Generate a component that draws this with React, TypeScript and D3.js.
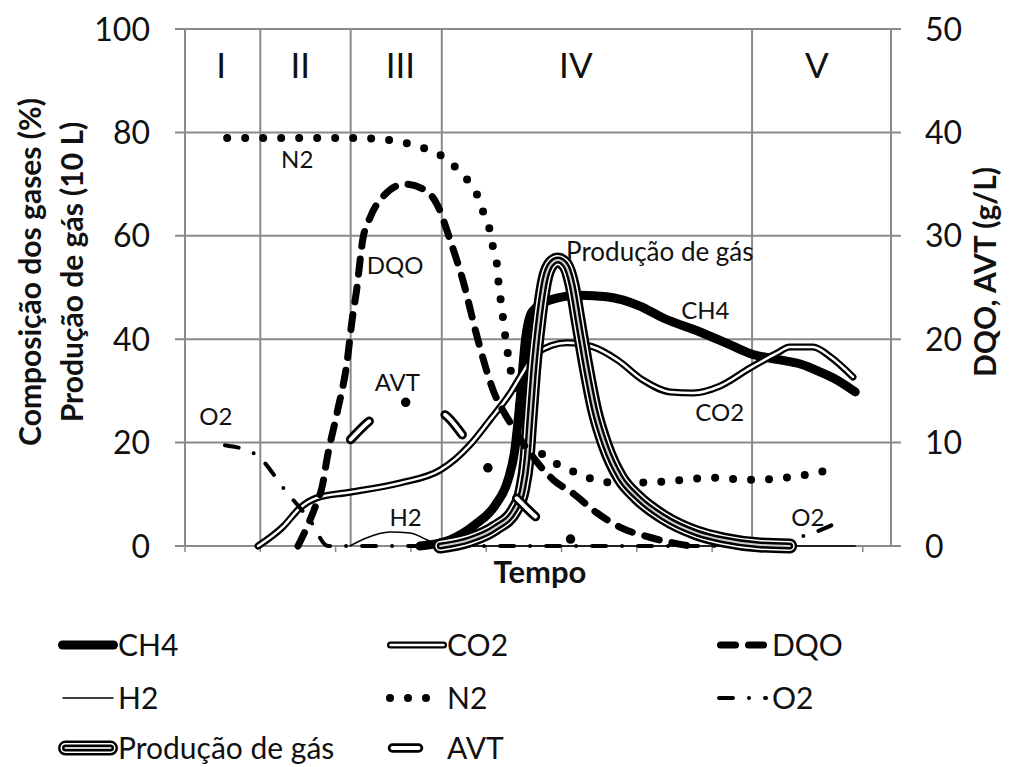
import React from "react";
import * as d3 from "d3";

const W = 1009;
const H = 767;

// Axis ticks and phase annotations
const leftTicks = [0, 20, 40, 60, 80, 100];
const rightTicks = [0, 10, 20, 30, 40, 50];
const timeTicks = [0, 1, 2, 3, 4, 5, 6, 7, 8, 9];
const phaseNames = ["I", "II", "III", "IV", "V"];
const phaseBounds = [1.0, 2.2, 3.41, 7.53];
const phaseLabelAt = [0.48, 1.53, 2.86, 5.19, 8.39];

// Gas composition (%) and gas production (10 L), left axis: [tempo, valor]
const ch4: [number, number][] = [
  [3.12, 0], [3.52, 1.2], [3.85, 4.1], [4.12, 7.9], [4.29, 12.8], [4.38, 18.6],
  [4.45, 28.2], [4.52, 39.8], [4.61, 45.3], [4.85, 47.6], [5.25, 48.5], [5.6, 48.2],
  [6.04, 46.4], [6.35, 44.1], [6.84, 41.4], [7.24, 38.9], [7.53, 37.1], [7.9, 36.0],
  [8.17, 35.2], [8.43, 33.7], [8.66, 32.1], [8.9, 29.8],
];
const co2: [number, number][] = [
  [0.97, 0], [1.3, 3.7], [1.53, 7.4], [1.75, 9.3], [2.19, 10.4], [2.86, 12.2],
  [3.39, 14.7], [3.59, 16.8], [3.78, 19.5], [4.05, 24.4], [4.32, 29.6], [4.45, 32.7],
  [4.67, 37.3], [5.07, 39.3], [5.42, 38.5], [5.74, 36.0], [6.08, 32.1], [6.44, 29.8],
  [6.75, 29.6], [7.1, 30.9], [7.5, 34.4], [7.86, 37.3], [8.03, 38.5], [8.34, 38.5],
  [8.57, 36.6], [8.87, 32.7],
];
const h2: [number, number][] = [
  [2.19, 0], [2.4, 1.5], [2.72, 2.7], [2.99, 2.5], [3.21, 1.2], [3.39, 0],
  [5.0, 0], [7.0, 0], [8.9, 0],
];
const n2: [number, number][] = [
  [0.56, 78.9], [1.53, 78.9], [2.2, 78.9], [2.59, 78.7], [2.95, 77.9], [3.16, 77.0],
  [3.39, 75.6], [3.59, 73.3], [3.75, 70.8], [3.88, 67.9], [3.96, 64.6], [4.04, 61.5],
  [4.09, 57.8], [4.14, 54.7], [4.16, 51.5], [4.21, 45.6], [4.26, 39.8], [4.32, 34.4],
  [4.45, 26.3], [4.65, 19.5], [4.9, 16.2], [5.11, 14.7], [5.34, 13.3], [5.55, 12.4],
  [5.8, 12.2], [6.31, 12.4], [7.01, 13.2], [7.5, 12.8], [7.97, 13.2], [8.21, 13.7],
  [8.43, 14.3], [8.66, 15.3],
];
const o2: [number, number][] = [
  [0.53, 19.5], [0.93, 17.8], [1.35, 10.4], [1.66, 5.0], [1.9, 0], [4.18, 0],
  [7.97, 0], [8.14, 1.5], [8.37, 2.7], [8.57, 3.9], [8.76, 5.2],
];
const producao: [number, number][] = [
  [3.39, 0], [3.78, 1.2], [4.12, 3.5], [4.38, 7.0], [4.48, 10.8], [4.54, 16.6],
  [4.58, 24.4], [4.63, 34.0], [4.7, 43.7], [4.78, 51.5], [4.87, 54.7], [4.95, 55.3],
  [5.05, 54.4], [5.14, 50.5], [5.22, 43.7], [5.31, 36.0], [5.44, 26.3], [5.58, 19.5],
  [5.78, 13.2], [6.0, 9.5], [6.35, 5.6], [6.8, 2.5], [7.14, 1.2], [7.64, 0.2], [8.03, 0],
];

// DQO and AVT (g/L), right axis
const dqo: [number, number][] = [
  [1.5, 0], [1.63, 2.0], [1.74, 4.0], [1.82, 5.7], [1.89, 8.6], [2.02, 12.9],
  [2.15, 17.7], [2.22, 21.9], [2.28, 24.8], [2.36, 29.6], [2.46, 31.8], [2.63, 33.8],
  [2.92, 35.0], [3.19, 34.4], [3.35, 33.0], [3.52, 29.6], [3.69, 25.7], [3.88, 20.2],
  [4.09, 15.1], [4.32, 11.9], [4.58, 9.0], [4.89, 6.4], [5.15, 5.1], [5.47, 3.2],
  [5.78, 1.8], [6.14, 0.9], [6.48, 0.3], [6.71, 0],
];
const avt: [number, number][] = [
  [2.2, 10.3], [2.42, 11.9], [2.92, 13.9], [3.45, 12.7], [3.71, 10.5], [4.04, 7.4],
  [4.38, 4.8], [4.71, 2.5], [5.21, 0.4], [5.4, 0],
];

// In-plot series labels, positioned in data units of the left axis
const seriesLabels = [
  { text: "N2", t: 1.49, v: 74.7, anchor: "middle" },
  { text: "DQO", t: 2.79, v: 54.2, anchor: "middle" },
  { text: "AVT", t: 2.82, v: 31.7, anchor: "middle" },
  { text: "O2", t: 0.41, v: 25.0, anchor: "middle" },
  { text: "H2", t: 2.93, v: 5.6, anchor: "middle" },
  { text: "CH4", t: 6.91, v: 45.6, anchor: "middle" },
  { text: "CO2", t: 7.1, v: 25.9, anchor: "middle" },
  { text: "O2", t: 8.27, v: 5.6, anchor: "middle" },
  { text: "Produção de gás", t: 5.06, v: 56.9, anchor: "start" },
];

const FONT = "Lato, 'Open Sans', sans-serif";
const GRID = "#8a8a8a";

type Stroke = { color: string; width: number; dash?: string };

const styles: Record<string, Stroke[]> = {
  CH4: [{ color: "#000", width: 9 }],
  CO2: [{ color: "#000", width: 7 }, { color: "#fff", width: 2.5 }],
  H2: [{ color: "#000", width: 1.5 }],
  N2: [{ color: "#000", width: 8, dash: "0 18" }],
  O2: [{ color: "#000", width: 4, dash: "14 16 0 16" }],
  Prod: [
    { color: "#000", width: 15 },
    { color: "#fff", width: 10 },
    { color: "#000", width: 7 },
    { color: "#cfcfcf", width: 2 },
  ],
  DQO: [{ color: "#000", width: 7, dash: "15 13" }],
  AVT: [
    { color: "#000", width: 9.5, dash: "26 42 0 42" },
    { color: "#fff", width: 4, dash: "26 84" },
  ],
};

function Strokes({ d, st }: { d: string; st: Stroke[] }) {
  return (
    <g fill="none" strokeLinecap="round" strokeLinejoin="round">
      {st.map((s, i) => (
        <path key={i} d={d} stroke={s.color} strokeWidth={s.width} strokeDasharray={s.dash} />
      ))}
    </g>
  );
}

export default function App() {
  const left = 185, right = 891, top = 29, bottom = 546;
  const x = d3.scaleLinear().domain([0, 9.375]).range([left, right]);
  const yL = d3.scaleLinear().domain([0, 100]).range([bottom, top]);
  const yR = d3.scaleLinear().domain([0, 50]).range([bottom, top]);

  const lineL = d3.line<[number, number]>().x((d) => x(d[0])).y((d) => yL(d[1])).curve(d3.curveMonotoneX);
  const lineR = d3.line<[number, number]>().x((d) => x(d[0])).y((d) => yR(d[1])).curve(d3.curveMonotoneX);

  const legendRows = [645, 698, 748];
  const legend = [
    { name: "CH4", st: styles.CH4, col: 0, row: 0 },
    { name: "CO2", st: styles.CO2, col: 1, row: 0 },
    { name: "DQO", st: styles.DQO, col: 2, row: 0 },
    { name: "H2", st: styles.H2, col: 0, row: 1 },
    { name: "N2", st: styles.N2, col: 1, row: 1 },
    { name: "O2", st: styles.O2, col: 2, row: 1 },
    { name: "Produção de gás", st: styles.Prod, col: 0, row: 2 },
    { name: "AVT", st: styles.AVT, col: 1, row: 2 },
  ];
  // symbol extents per legend entry
  const legendSym: Record<string, [number, number]> = {
    CH4: [62.5, 113.5],
    CO2: [390.5, 443.5],
    DQO: [720.5, 764.5],
    H2: [63, 113],
    N2: [390, 430],
    O2: [719, 766],
    "Produção de gás": [65.5, 110.5],
    AVT: [392.5, 422.5],
  };
  const legendTextX = [118, 447, 772];

  return (
    <svg width={W} height={H} style={{ position: "absolute", left: 0, top: 0, background: "#fff" }}>
      <rect width={W} height={H} fill="#fff" />
      {/* horizontal gridlines with outer tick marks on both axes */}
      {leftTicks.map((v) => (
        <line key={"g" + v} x1={left - 10} x2={right + 10} y1={yL(v)} y2={yL(v)} stroke={GRID} strokeWidth={2} />
      ))}
      {/* vertical axes */}
      <line x1={left} x2={left} y1={top} y2={bottom} stroke={GRID} strokeWidth={2} />
      <line x1={right} x2={right} y1={top} y2={bottom} stroke={GRID} strokeWidth={2} />
      {/* phase separators */}
      {phaseBounds.map((t) => (
        <line key={"p" + t} x1={x(t)} x2={x(t)} y1={top} y2={bottom} stroke={GRID} strokeWidth={2} />
      ))}
      {/* time axis tick marks */}
      {timeTicks.map((t) => (
        <line key={"t" + t} x1={x(t)} x2={x(t)} y1={bottom} y2={bottom + 6} stroke={GRID} strokeWidth={1.5} />
      ))}

      {/* phase labels */}
      {phaseNames.map((p, i) => (
        <text key={p} x={x(phaseLabelAt[i])} y={yL(93)} dy="0.36em" textAnchor="middle" fontFamily={FONT} fontSize={35} fill="#111">
          {p}
        </text>
      ))}

      {/* series */}
      <Strokes d={lineL(n2) as string} st={styles.N2} />
      <Strokes d={lineL(ch4) as string} st={styles.CH4} />
      <Strokes d={lineL(co2) as string} st={styles.CO2} />
      <Strokes d={lineL(h2) as string} st={styles.H2} />
      <Strokes d={lineL(o2) as string} st={styles.O2} />
      <Strokes d={lineL(producao) as string} st={styles.Prod} />
      <Strokes d={lineR(dqo) as string} st={styles.DQO} />
      <Strokes d={lineR(avt) as string} st={styles.AVT} />

      {/* series labels */}
      {seriesLabels.map((l, i) => (
        <text key={"l" + i} x={x(l.t)} y={yL(l.v)} dy="0.36em" textAnchor={l.anchor} fontFamily={FONT}
          fontSize={l.text.length > 5 ? 26 : 24} fill="#111">
          {l.text}
        </text>
      ))}

      {/* left axis labels */}
      {leftTicks.map((v) => (
        <text key={"lt" + v} x={150} y={yL(v)} dy="0.36em" textAnchor="end" fontFamily={FONT} fontSize={32} fill="#111">
          {v}
        </text>
      ))}
      {/* right axis labels */}
      {rightTicks.map((v) => (
        <text key={"rt" + v} x={925} y={yR(v)} dy="0.36em" textAnchor="start" fontFamily={FONT} fontSize={32} fill="#111">
          {v}
        </text>
      ))}

      {/* axis titles */}
      <text transform={`translate(30,272) rotate(-90)`} dy="0.36em" textAnchor="middle" fontFamily={FONT} fontWeight="bold" fontSize={30} fill="#111">
        Composição dos gases (%)
      </text>
      <text transform={`translate(72,272) rotate(-90)`} dy="0.36em" textAnchor="middle" fontFamily={FONT} fontWeight="bold" fontSize={30} fill="#111">
        Produção de gás (10 L)
      </text>
      <text transform={`translate(985,272) rotate(-90)`} dy="0.36em" textAnchor="middle" fontFamily={FONT} fontWeight="bold" fontSize={30} fill="#111">
        DQO, AVT (g/L)
      </text>
      <text x={540} y={583} textAnchor="middle" fontFamily={FONT} fontWeight="bold" fontSize={31} fill="#111">
        Tempo
      </text>

      {/* legend */}
      {legend.map((it) => {
        const y = legendRows[it.row];
        const [a, b] = legendSym[it.name];
        return (
          <g key={it.name}>
            <Strokes d={`M${a},${y}L${b},${y}`} st={it.st} />
            <text x={legendTextX[it.col]} y={y} dy="0.36em" fontFamily={FONT} fontSize={30} fill="#111">
              {it.name}
            </text>
          </g>
        );
      })}
    </svg>
  );
}
